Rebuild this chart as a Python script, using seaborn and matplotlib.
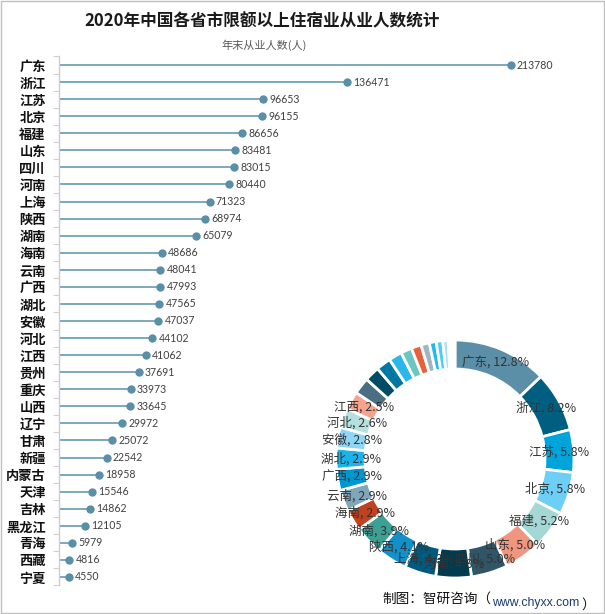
import numpy as np
import pandas as pd
import matplotlib
matplotlib.use('Agg')
import matplotlib.pyplot as plt
import seaborn as sns

provinces = ['广东', '浙江', '江苏', '北京', '福建', '山东', '四川', '河南', '上海', '陕西',
             '湖南', '海南', '云南', '广西', '湖北', '安徽', '河北', '江西', '贵州', '重庆',
             '山西', '辽宁', '甘肃', '新疆', '内蒙古', '天津', '吉林', '黑龙江', '青海', '西藏', '宁夏']
workers = [213780, 136471, 96653, 96155, 86656, 83481, 83015, 80440, 71323, 68974,
           65079, 48686, 48041, 47993, 47565, 47037, 44102, 41062, 37691, 33973,
           33645, 29972, 25072, 22542, 18958, 15546, 14862, 12105, 5979, 4816, 4550]
# 环形图只标注前18个省份
n_labeled = 18

ring_colors = ['#5b8fa8', '#005e80', '#00a3da', '#6dcff6', '#a5d8d5', '#f0967f', '#2f5566',
               '#003b50', '#005a7e', '#1290c8', '#3ca095', '#c2421f', '#7fa6b9', '#0096d0',
               '#1ab4ea', '#8ed6f5', '#b4e1de', '#f3a48f', '#4a6f82', '#004b66', '#0078a4',
               '#29b7ec', '#6cc6c0', '#e8613b', '#a0b6c3', '#20bcf0', '#50cbf5', '#a9e1f6',
               '#cfebec', '#e6f4f8', '#f2f8fa']

df = pd.DataFrame({'province': provinces, 'workers': workers})

sns.set_theme(style='white')
plt.rcParams['font.family'] = ['Noto Sans CJK SC', 'DejaVu Sans']

fig = plt.figure(figsize=(6.05, 6.14), dpi=100)

# 棒棒糖图
ax = fig.add_axes([59 / 605, 28.5 / 614, 528 / 605, 529 / 614])
stem = '#5a8fa8'
ax.hlines(y=np.arange(len(df)), xmin=0, xmax=df['workers'], color=stem, lw=1.1, zorder=1)
sns.stripplot(data=df, x='workers', y='province', orient='h', jitter=False,
              size=6, color=stem, linewidth=0, ax=ax, zorder=2)
for i, v in enumerate(df['workers']):
    ax.annotate(str(v), (v, i), xytext=(4.5, 0), textcoords='offset points',
                va='center', ha='left', fontsize=7.6, color='#404040', family=['Lato', 'DejaVu Sans'])
ax.set_xlim(0, 250000)
ax.set_ylim(len(df) - 0.5, -0.5)
ax.set_xlabel('')
ax.set_ylabel('')
ax.set_xticks([])
ax.set_yticks(np.arange(-0.5, len(df), 1), minor=True)
ax.tick_params(axis='y', which='major', length=0, pad=9.5, labelsize=9.5, labelcolor='#111111')
ax.tick_params(axis='y', which='minor', left=True, length=4, width=0.8, color='#d0d0d0')
for lab in ax.get_yticklabels():
    lab.set_fontweight('bold')
for s in ['top', 'right', 'bottom']:
    ax.spines[s].set_visible(False)
ax.spines['left'].set_color('#cccccc')
ax.spines['left'].set_linewidth(1)
ax.patch.set_alpha(0)

# 环形图
ax2 = fig.add_axes([315 / 605, 15 / 614, 280 / 605, 280 / 614])
total = sum(workers)
labels = [f'{p}, {v / total * 100:.1f}%' if i < n_labeled else ''
          for i, (p, v) in enumerate(zip(provinces, workers))]
wedges, texts = ax2.pie(workers, labels=labels, colors=ring_colors, startangle=90,
                        counterclock=False, radius=1, labeldistance=0.878,
                        wedgeprops=dict(width=0.244, edgecolor='white', linewidth=2),
                        textprops=dict(fontsize=9, color='#333333'))
for t in texts:
    t.set_ha('center')
lim = 140 / 119
ax2.set_xlim(-lim, lim)
ax2.set_ylim(-lim, lim)
ax2.patch.set_alpha(0)

fig.text(262 / 605, 1 - 21 / 614, '2020年中国各省市限额以上住宿业从业人数统计',
         ha='center', va='center', fontsize=12, fontweight='bold', color='#1a1a1a')
fig.text(264 / 605, 1 - 45 / 614, '年末从业人数(人)', ha='center', va='center',
         fontsize=8, color='#595959')

# 底部来源
t1 = fig.text(382 / 605, 11 / 614, '制图：智研咨询（', ha='left', va='baseline',
              fontsize=9.8, color='#111111')
a2 = plt.annotate('www.chyxx.com', xy=(1, 0), xycoords=t1, xytext=(1, 0), textcoords='offset points',
                  va='baseline', ha='left', fontsize=8.8, color='#1f3a70',
                  family=['Liberation Sans', 'DejaVu Sans'], annotation_clip=False)
plt.annotate('）', xy=(1, 0), xycoords=a2, xytext=(1, 0), textcoords='offset points',
             va='baseline', ha='left', fontsize=9.8, color='#111111', annotation_clip=False)

fig.patches.append(plt.Rectangle((0.001, 0.001), 0.997, 0.997, transform=fig.transFigure,
                                 fill=False, edgecolor='#bfbfbf', linewidth=1))

fig.savefig('out.png', dpi=100)
